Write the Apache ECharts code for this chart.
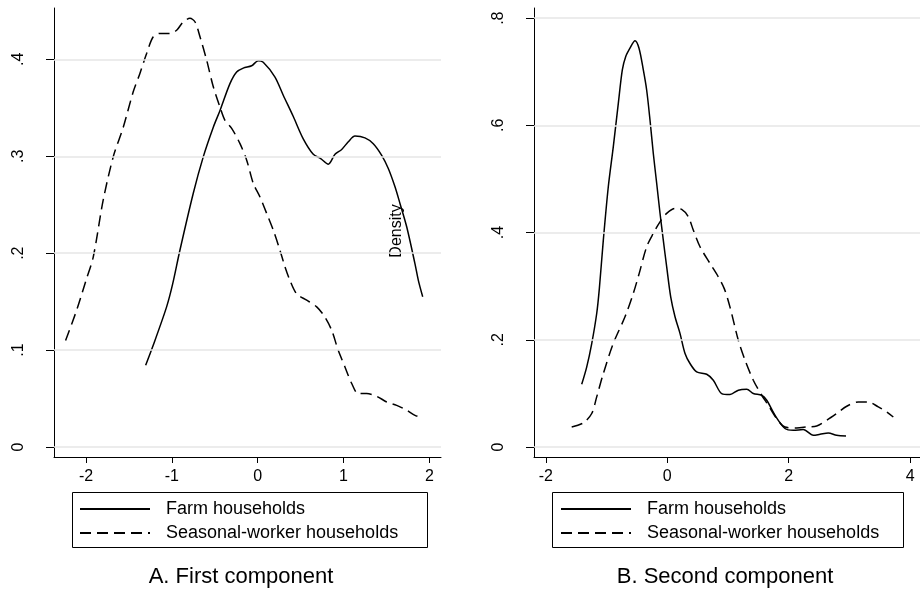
<!DOCTYPE html>
<html>
<head>
<meta charset="utf-8">
<script src="https://cdn.jsdelivr.net/npm/echarts@6/dist/echarts.min.js"></script>
<style>
html,body{margin:0;padding:0;background:#fff;}
#chart{width:920px;height:593px;}
</style>
</head>
<body>
<div id="chart"></div>
<script>
// ---- Panel A: First component ----
const xA_farm = [-1.305,-1.217,-1.061,-0.991,-0.906,-0.751,-0.634,-0.517,-0.44,-0.323,-0.245,-0.168,-0.07,0.007,0.065,0.2,0.298,0.415,0.531,0.648,0.734,0.823,0.901,0.979,1.056,1.134,1.25,1.347,1.445,1.522,1.6,1.658,1.737,1.833,1.872,1.923];
const yA_farm = [0.0844,0.105,0.1446,0.168,0.203,0.2616,0.2994,0.330,0.347,0.375,0.387,0.391,0.3934,0.3986,0.397,0.382,0.363,0.341,0.318,0.302,0.2977,0.2919,0.302,0.307,0.315,0.3208,0.319,0.313,0.301,0.2874,0.2685,0.2513,0.227,0.189,0.172,0.155];
const xA_seas = [-2.238,-2.11,-2.0,-1.916,-1.8,-1.683,-1.566,-1.45,-1.372,-1.294,-1.217,-1.139,-1.022,-0.944,-0.867,-0.789,-0.731,-0.672,-0.594,-0.517,-0.44,-0.381,-0.303,-0.206,-0.128,-0.051,0.027,0.105,0.182,0.26,0.318,0.376,0.455,0.571,0.688,0.784,0.862,0.939,1.017,1.096,1.172,1.27,1.387,1.503,1.62,1.737,1.833,1.911];
const yA_seas = [0.110,0.141,0.172,0.196,0.2547,0.2994,0.330,0.3665,0.3855,0.406,0.4233,0.4268,0.4268,0.430,0.4388,0.4423,0.4388,0.4233,0.399,0.3717,0.351,0.337,0.3288,0.313,0.296,0.272,0.258,0.241,0.2237,0.203,0.186,0.172,0.158,0.1515,0.1446,0.134,0.1205,0.0998,0.0826,0.0655,0.0551,0.0551,0.0523,0.0465,0.043,0.0379,0.0327,0.0303];
// ---- Panel B: Second component ----
const xB_farm = [-1.41,-1.328,-1.245,-1.163,-1.12,-1.054,-0.972,-0.89,-0.807,-0.741,-0.686,-0.615,-0.532,-0.466,-0.395,-0.34,-0.285,-0.231,-0.175,-0.12,-0.066,-0.01,0.056,0.127,0.209,0.292,0.374,0.484,0.649,0.758,0.896,1.033,1.17,1.308,1.417,1.555,1.638,1.774,1.939,2.076,2.24,2.405,2.516,2.652,2.79,2.944];
const yB_farm = [0.117,0.149,0.193,0.249,0.295,0.386,0.4855,0.560,0.641,0.7034,0.728,0.744,0.758,0.744,0.7034,0.666,0.610,0.548,0.492,0.436,0.386,0.336,0.280,0.243,0.212,0.1744,0.1557,0.140,0.1357,0.1245,0.0997,0.0978,0.106,0.1077,0.0997,0.0965,0.0872,0.0592,0.0344,0.0312,0.0325,0.0218,0.0237,0.0261,0.0218,0.0205];
const xB_seas = [-1.575,-1.384,-1.245,-1.163,-1.054,-0.89,-0.697,-0.56,-0.465,-0.34,-0.231,-0.12,-0.01,0.127,0.237,0.346,0.428,0.539,0.703,0.84,0.94,1.033,1.17,1.28,1.417,1.555,1.664,1.802,1.939,2.132,2.297,2.461,2.626,2.79,2.956,3.147,3.311,3.476,3.614,3.723];
const yB_seas = [0.0373,0.0448,0.0624,0.0934,0.137,0.193,0.2428,0.2865,0.323,0.3735,0.3985,0.420,0.4358,0.445,0.4433,0.4295,0.4047,0.3735,0.3425,0.3175,0.295,0.261,0.199,0.162,0.1245,0.0965,0.0779,0.053,0.0373,0.0355,0.0373,0.0392,0.0499,0.0624,0.076,0.084,0.084,0.0747,0.0654,0.056];

const seriesNames = ['Farm households', 'Seasonal-worker households'];
const panelTitles = ['A. First component', 'B. Second component'];
const ticksA_x = [-2, -1, 0, 1, 2];
const ticksA_y = [0, 0.1, 0.2, 0.3, 0.4];
const ticksB_x = [-2, 0, 2, 4];
const ticksB_y = [0, 0.2, 0.4, 0.6, 0.8];
const stray_y_title = 'Density';

const zip = (xs, ys) => xs.map((x, i) => [x, ys[i]]);
const yFmt = v => (Math.abs(v) < 1e-9 ? '0' : String(+v.toFixed(2)).replace(/^0\./, '.').replace(/^-0\./, '-.'));
const FONT = 'Liberation Sans, Arial, Helvetica, sans-serif';

function xAxisDef(gi, min, max, ticks) {
  return {
    type: 'value', gridIndex: gi, min: min, max: max,
    axisLine: { show: true, onZero: false, lineStyle: { color: '#000', width: 1 } },
    axisTick: { show: true, customValues: ticks, length: 6, lineStyle: { color: '#000' } },
    axisLabel: { show: true, customValues: ticks, margin: 12, color: '#000', fontSize: 16, fontFamily: FONT,
      formatter: v => String(v) },
    splitLine: { show: false }
  };
}
function yAxisDef(gi, min, max, ticks) {
  return {
    type: 'value', gridIndex: gi, min: min, max: max,
    axisLine: { show: true, onZero: false, lineStyle: { color: '#000', width: 1 } },
    axisTick: { show: true, customValues: ticks, length: 8, lineStyle: { color: '#000' } },
    axisLabel: { show: true, customValues: ticks, rotate: 90, margin: 27, color: '#000', fontSize: 16, fontFamily: FONT,
      formatter: yFmt },
    splitLine: { show: false }
  };
}
function gridLines(ticks) {
  return {
    silent: true, symbol: ['none', 'none'], label: { show: false },
    lineStyle: { color: '#e6e6e6', width: 1.5, type: 'solid' },
    emphasis: { disabled: true },
    data: ticks.map(t => ({ yAxis: t }))
  };
}
function lineSeries(name, gi, data, dashed, ticks) {
  const s = {
    name: name, type: 'line', xAxisIndex: gi, yAxisIndex: gi,
    data: data, showSymbol: false, symbol: 'none', smooth: 0.3,
    lineStyle: { color: '#000', width: 1.5, type: dashed ? [11, 6] : 'solid' },
    itemStyle: { color: '#000' },
    emphasis: { disabled: true }, z: 3
  };
  if (ticks) s.markLine = gridLines(ticks);
  return s;
}
function legendDef(left) {
  return {
    orient: 'vertical', left: left, top: 500, padding: 0,
    itemWidth: 70, itemHeight: 14, itemGap: 6,
    selectedMode: false,
    icon: 'inherit',
    itemStyle: { opacity: 0 },
    data: seriesNames,
    textStyle: { color: '#000', fontSize: 18, fontFamily: FONT, lineHeight: 18, padding: [0, 0, 0, 11] }
  };
}

const chart = echarts.init(document.getElementById('chart'), null, { renderer: 'canvas' });
chart.setOption({
  animation: false,
  backgroundColor: '#fff',
  grid: [
    { left: 54, right: 479, top: 8, bottom: 136 },
    { left: 534, right: 0, top: 8, bottom: 136 }
  ],
  xAxis: [xAxisDef(0, -2.373, 2.136, ticksA_x), xAxisDef(1, -2.196, 4.163, ticksB_x)],
  yAxis: [yAxisDef(0, -0.0103, 0.453, ticksA_y), yAxisDef(1, -0.0187, 0.819, ticksB_y)],
  legend: [legendDef(79), legendDef(560)],
  title: [
    { text: panelTitles[0], left: 241, top: 566, textAlign: 'center', padding: 0,
      textStyle: { color: '#000', fontSize: 22, fontWeight: 'normal', fontFamily: FONT } },
    { text: panelTitles[1], left: 725, top: 566, textAlign: 'center', padding: 0,
      textStyle: { color: '#000', fontSize: 22, fontWeight: 'normal', fontFamily: FONT } }
  ],
  graphic: [
    { type: 'rect', shape: { x: 72.5, y: 492.5, width: 355, height: 55 }, style: { fill: 'none', stroke: '#000', lineWidth: 1 }, z: 1 },
    { type: 'rect', shape: { x: 552.5, y: 492.5, width: 351, height: 55 }, style: { fill: 'none', stroke: '#000', lineWidth: 1 }, z: 1 },
    { type: 'text', x: 397, y: 231, rotation: Math.PI / 2,
      style: { text: stray_y_title, x: 0, y: 0, align: 'center', verticalAlign: 'middle', fill: '#000', fontSize: 16, fontFamily: FONT }, z: 5 }
  ],
  series: [
    lineSeries(seriesNames[0], 0, zip(xA_farm, yA_farm), false, ticksA_y),
    lineSeries(seriesNames[1], 0, zip(xA_seas, yA_seas), true),
    lineSeries(seriesNames[0], 1, zip(xB_farm, yB_farm), false, ticksB_y),
    lineSeries(seriesNames[1], 1, zip(xB_seas, yB_seas), true)
  ]
});
</script>
</body>
</html>
